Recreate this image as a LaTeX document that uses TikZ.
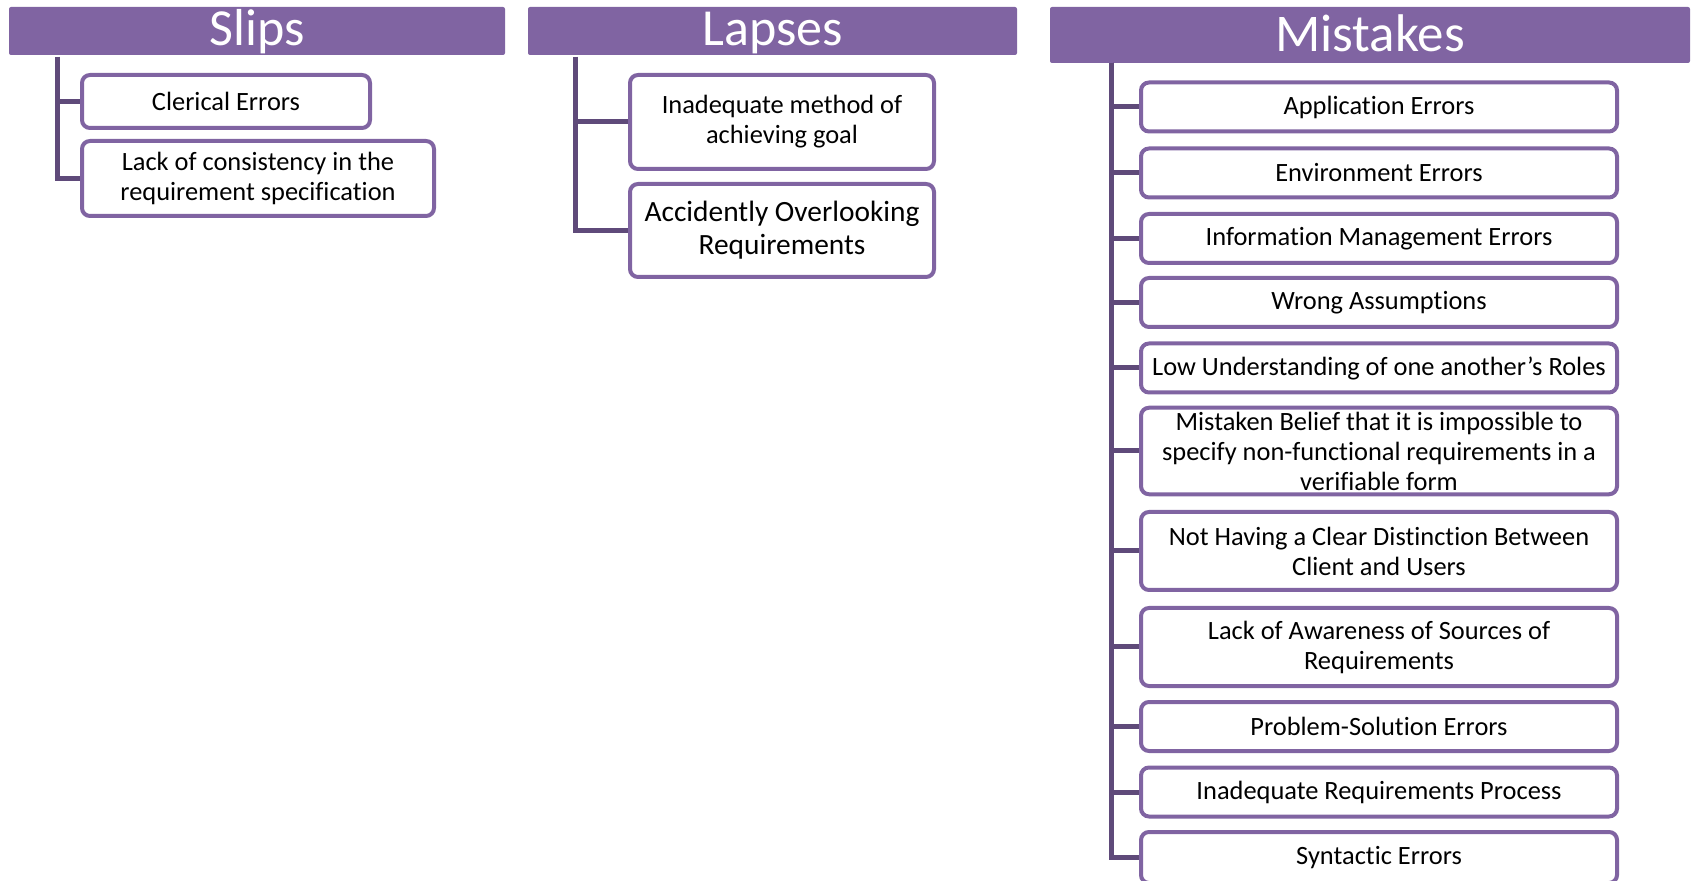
\documentclass[tikz,border=0pt]{standalone}
\usepackage{fontspec}
\setmainfont{Carlito}[Ligatures={NoCommon,NoContextual}, Contextuals=NoAlternate]
\usetikzlibrary{positioning}
\definecolor{lavender}{HTML}{8064A2}
\definecolor{plum}{HTML}{5F4A7A}

\tikzset{
  header/.style={fill=lavender, rounded corners=1pt, text=white, inner sep=0pt,
    text height=18pt, text depth=3pt, font=\fontsize{26}{30}\selectfont},
  errbox/.style={draw=lavender, line width=2pt, rounded corners=4pt, fill=white,
    align=center, inner sep=2pt, font=\fontsize{13.2}{15}\selectfont},
  mbox/.style={errbox, minimum width=238pt, minimum height=24.5pt},
  trunk/.style={draw=plum, line width=2.5pt}
}

\begin{document}
\begin{tikzpicture}[x=0.5pt, y=-0.5pt]
  \useasboundingbox (0,0) rectangle (1692,881);

  % Slips
  \node[header, minimum width=248pt, minimum height=24pt] (slips) at (257,31) {Slips};
  \node[errbox, minimum width=144pt, minimum height=26.5pt] (clerical) at (226,101.5) {Clerical Errors};
  \node[errbox, minimum width=176pt, minimum height=37.5pt] (consist) at (258,178.5)
    {Lack of consistency in the\\requirement specification};
  \coordinate (slipsroot) at (57,57);
  \draw[trunk] (slipsroot) |- (clerical.west);
  \draw[trunk] (slipsroot) |- (consist.west);

  % Lapses
  \node[header, minimum width=244.5pt, minimum height=24pt] (lapses) at (772.5,31) {Lapses};
  \node[errbox, minimum width=152pt, minimum height=47pt] (method) at (782,122)
    {Inadequate method of\\achieving goal};
  \node[errbox, minimum width=152pt, minimum height=46.5pt, font=\fontsize{14.7}{16.5}\selectfont]
    (overlook) at (782,230.5) {Accidently Overlooking\\Requirements};
  \coordinate (lapsesroot) at (575,57);
  \draw[trunk] (lapsesroot) |- (method.west);
  \draw[trunk] (lapsesroot) |- (overlook.west);

  % Mistakes
  \node[header, minimum width=320pt, minimum height=28pt, text height=19pt, text depth=2pt,
    font=\fontsize{26.5}{30}\selectfont] (mistakes) at (1370,35) {Mistakes};
  \node[mbox] (application) at (1379,107) {Application Errors};
  \node[mbox] (environment) at (1379,173) {Environment Errors};
  \node[mbox] (information) at (1379,238.5) {Information Management Errors};
  \node[mbox] (assumption) at (1379,302.5) {Wrong Assumptions};
  \node[mbox] (roles) at (1379,368) {Low Understanding of one another’s Roles};
  \node[mbox, minimum height=43pt] (belief) at (1379,451)
    {Mistaken Belief that it is impossible to\\specify non-functional requirements in a\\verifiable form};
  \node[mbox, minimum height=39pt] (distinction) at (1379,551)
    {Not Having a Clear Distinction Between\\Client and Users};
  \node[mbox, minimum height=39pt] (awareness) at (1379,647)
    {Lack of Awareness of Sources of\\Requirements};
  \node[mbox] (problem) at (1379,726.5) {Problem-Solution Errors};
  \node[mbox] (process) at (1379,792) {Inadequate Requirements Process};
  \node[mbox, minimum height=25.5pt] (syntactic) at (1379,857.5) {Syntactic Errors};
  \coordinate (mistakesroot) at (1111,63);
  \foreach \leaf in {application,environment,information,assumption,roles,belief,
    distinction,awareness,problem,process,syntactic}
    \draw[trunk] (mistakesroot) |- (\leaf.west);
\end{tikzpicture}
\end{document}
